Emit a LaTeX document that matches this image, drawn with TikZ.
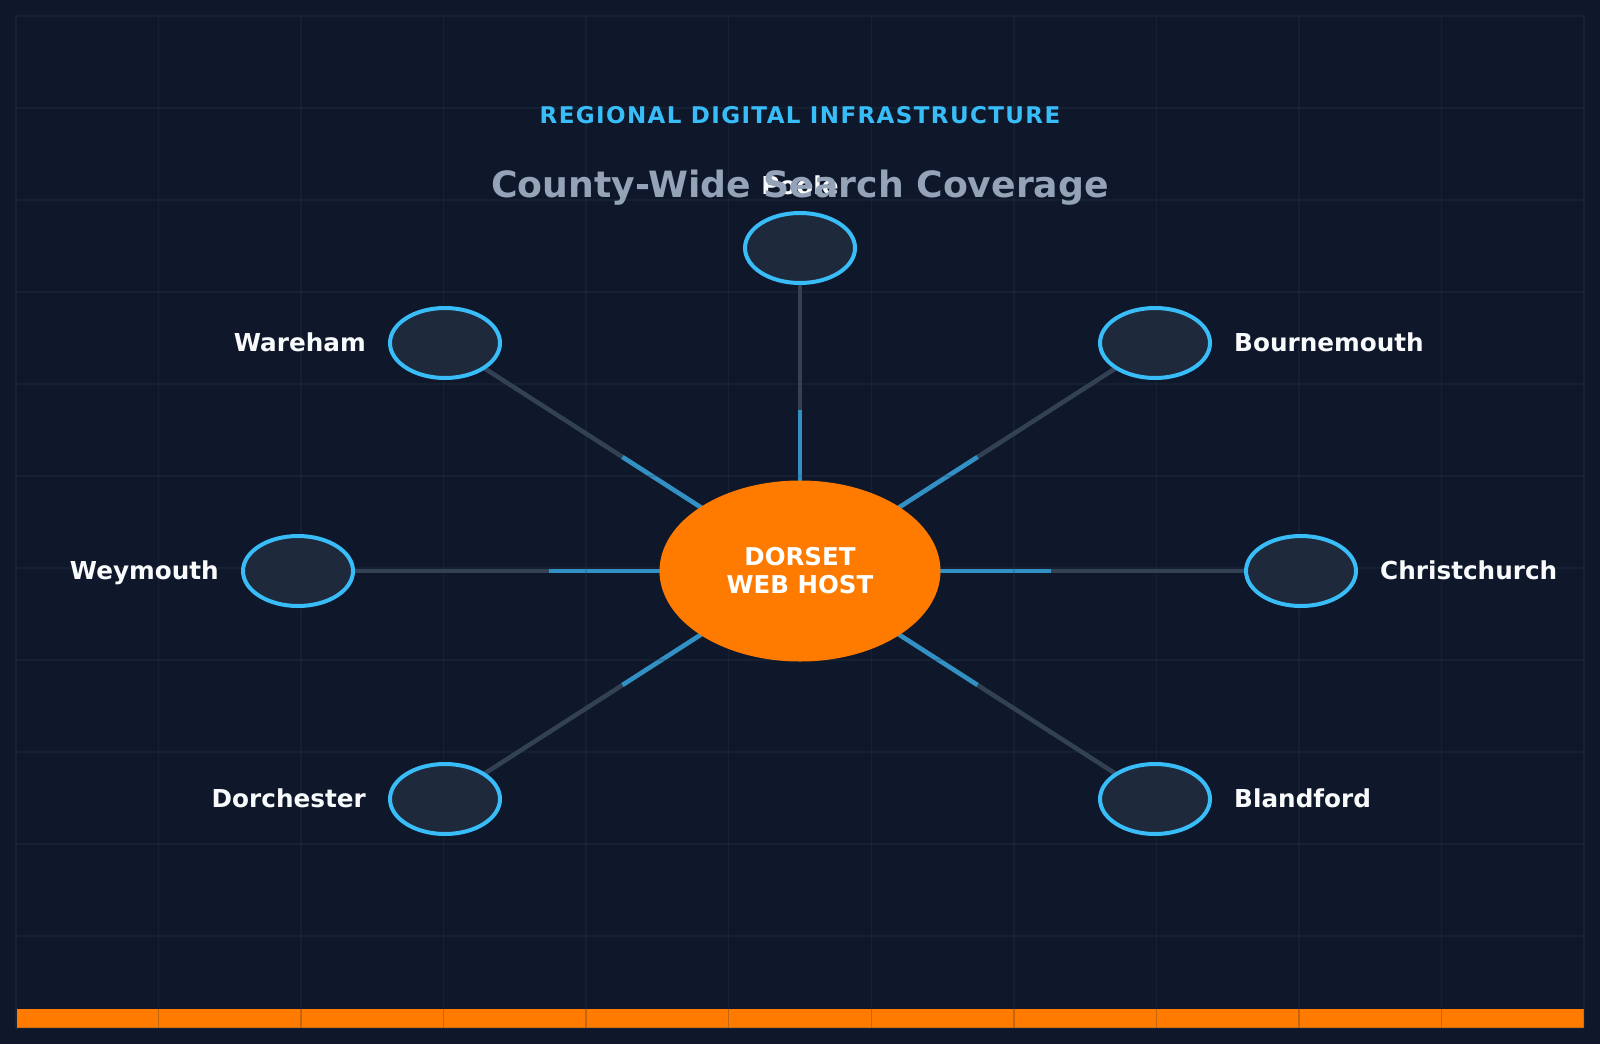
\documentclass[tikz,border=0pt]{standalone}
\usepackage{fontspec}
\setmainfont{DejaVu Sans}
\newfontfamily\spacedfont[LetterSpace=6]{DejaVu Sans}
\usetikzlibrary{shapes.geometric,calc}
\definecolor{bgc}{HTML}{0F172A}
\definecolor{gridc}{HTML}{334155}
\definecolor{sky}{HTML}{38BDF8}
\definecolor{slatefill}{HTML}{1E293B}
\definecolor{conngray}{HTML}{334155}
\definecolor{connblue}{HTML}{3190C4}
\definecolor{hubor}{HTML}{FF7B00}
\definecolor{bardiv}{HTML}{C2670F}
\definecolor{subgray}{HTML}{94A3B8}
\definecolor{lblwhite}{HTML}{F8FAFC}
\pgfdeclarelayer{back}
\pgfdeclarelayer{mid}
\pgfsetlayers{back,mid,main}
\tikzset{
  sat/.style={ellipse, draw=sky, line width=4pt, fill=slatefill, minimum width=110pt, minimum height=70pt, inner sep=0pt},
  hubnode/.style={ellipse, fill=hubor, minimum width=281pt, minimum height=181pt, inner sep=0pt, text=white, align=center, font=\bfseries\fontsize{24.5}{28}\selectfont},
  conn/.style={draw=conngray, line width=4.5pt},
  connhi/.style={draw=connblue, line width=4.5pt},
  gridline/.style={draw=gridc, opacity=0.22, line width=1.5pt},
  bardivider/.style={draw=bardiv, line width=1.5pt},
  lbl/.style={inner sep=0pt, text=lblwhite, font=\bfseries\fontsize{24.7}{28}\selectfont},
}
\begin{document}
\begin{tikzpicture}[x=1pt,y=-1pt]
\useasboundingbox (0,0) rectangle (1600,1044);
\begin{pgfonlayer}{back}
\fill[bgc] (0,0) rectangle (1600,1044);
\fill[hubor, draw=bgc, line width=1pt] (16,1008) rectangle (1584,1028);
\end{pgfonlayer}
\begin{pgfonlayer}{mid}
\foreach \i in {0,...,11} {
  \draw[gridline] ({16+142.5455*\i},16) -- ({16+142.5455*\i},1028);
  \draw[gridline] (16,{16+92*\i}) -- (1584,{16+92*\i});
}
\foreach \i in {1,...,10} {
  \draw[bardivider] ({16+142.5455*\i},1008.5) -- ({16+142.5455*\i},1027.5);
}
\end{pgfonlayer}
% nodes
\node[hubnode] (hub) at (800,571) {DORSET\\WEB HOST};
\node[sat] (poole) at (800,248) {};
\node[sat] (bournemouth) at (1155,343) {};
\node[sat] (christchurch) at (1301,571) {};
\node[sat] (blandford) at (1155,799) {};
\node[sat] (dorchester) at (445,799) {};
\node[sat] (weymouth) at (298,571) {};
\node[sat] (wareham) at (445,343) {};
% connectors
\begin{pgfonlayer}{back}
\foreach \n in {poole,bournemouth,christchurch,blandford,dorchester,weymouth,wareham} {
  \draw[conn] (hub.center) -- (\n.center);
  \draw[connhi] (hub.center) -- ($(hub.center)!0.5!(\n.center)$);
}
\end{pgfonlayer}
% labels
\node[lbl, anchor=base] (poolel) at (800,194) {Poole};
\node[lbl, anchor=base west] (bournemouthl) at (1234,351) {Bournemouth};
\node[lbl, anchor=base west] (christchurchl) at (1380,579) {Christchurch};
\node[lbl, anchor=base west] (blandfordl) at (1234,807) {Blandford};
\node[lbl, anchor=base east] (dorchesterl) at (366,807) {Dorchester};
\node[lbl, anchor=base east] (weymouthl) at (219,579) {Weymouth};
\node[lbl, anchor=base east] (warehaml) at (366,351) {Wareham};
% titles
\node[inner sep=0pt, anchor=base, text=sky, font=\spacedfont\bfseries\fontsize{23}{28}\selectfont] (kicker) at (800,123) {REGIONAL DIGITAL INFRASTRUCTURE};
\node[inner sep=0pt, anchor=base, text=subgray, font=\bfseries\fontsize{36.2}{42}\selectfont] (title) at (800,197) {County-Wide Search Coverage};
\end{tikzpicture}
\end{document}
